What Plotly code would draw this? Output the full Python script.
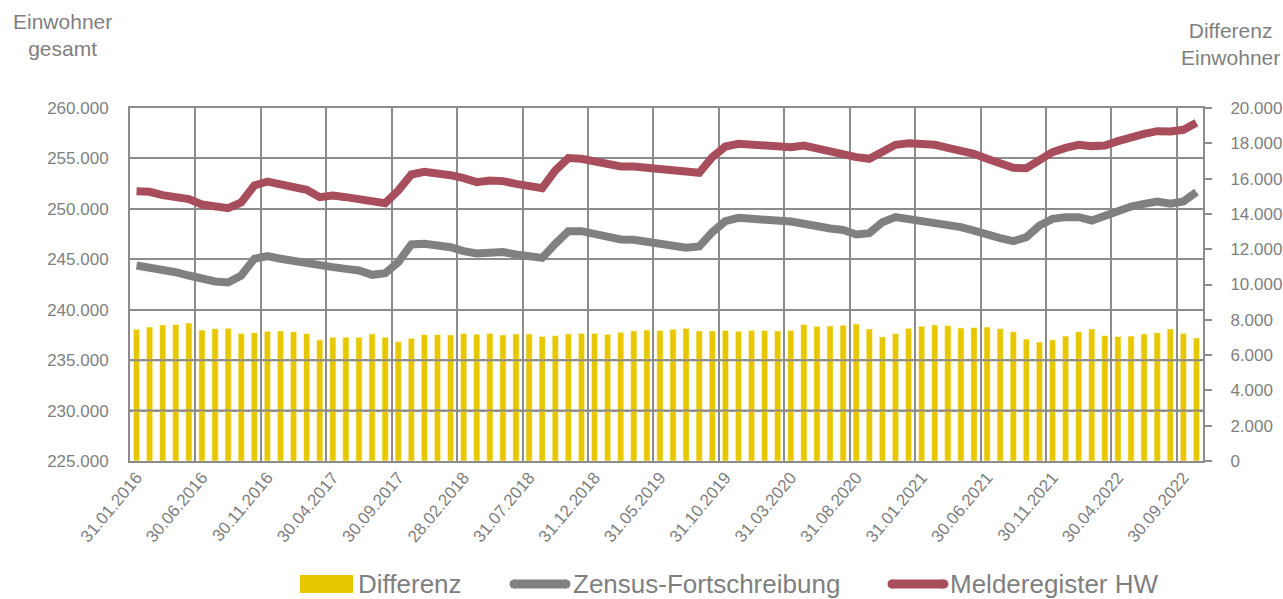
import pandas as pd
import plotly.graph_objects as go

# ---------------- data ----------------
months = [d.strftime("%d.%m.%Y") for d in pd.date_range("2016-01-31", periods=82, freq="ME")]

melderegister_hw = [
    251750, 251690, 251360, 251230, 250960, 250430, 250230, 250070, 250630, 252320,
    252710, 252420, 252150, 251890, 251160, 251320, 251160, 250930, 250660, 250560,
    251820, 253410, 253670, 253540, 253340, 253040, 252650, 252810, 252750, 252480,
    252320, 252050, 253800, 255030, 254960, 254700, 254400, 254200, 254200, 254070,
    253940, 253800, 253640, 253570, 255130, 256180, 256450, 256350, 256350, 256120,
    256120, 256280, 255950, 255750, 255460, 255130, 254960, 255620, 256350, 256510,
    256450, 256350, 256050, 255790, 255460, 254960, 254460, 254070, 254030, 254800,
    255620, 256050, 256350, 256220, 256280, 256710, 257110, 257440, 257700, 257670,
    257840, 258530,
]

zensus_fortschreibung = [
    244380, 244220, 243890, 243720, 243390, 243060, 242800, 242700, 243390, 245050,
    245310, 245050, 244810, 244620, 244320, 244220, 244050, 243890, 243460, 243620,
    244710, 246470, 246530, 246430, 246200, 245810, 245570, 245640, 245710, 245480,
    245310, 245140, 246530, 247790, 247790, 247520, 247290, 246960, 246930, 246700,
    246630, 246370, 246140, 246270, 247690, 248780, 249110, 249010, 248950, 248750,
    248750, 248520, 248190, 248050, 247900, 247460, 247590, 248680, 249180, 249010,
    248850, 248610, 248350, 248190, 247850, 247420, 247090, 246800, 247190, 248350,
    249010, 249180, 249180, 248850, 249340, 249770, 250230, 250500, 250730, 250500,
    250730, 251660,
]

differenz = [
    7460, 7590, 7710, 7730, 7820, 7420, 7500, 7520, 7230, 7270,
    7350, 7370, 7330, 7220, 6860, 7010, 7010, 7010, 7200, 7010,
    6760, 6950, 7160, 7160, 7140, 7230, 7180, 7230, 7140, 7200,
    7200, 7060, 7100, 7200, 7230, 7230, 7180, 7290, 7370, 7420,
    7390, 7460, 7520, 7370, 7370, 7400, 7350, 7400, 7400, 7370,
    7400, 7740, 7630, 7650, 7690, 7760, 7480, 7030, 7220, 7520,
    7630, 7710, 7670, 7540, 7560, 7590, 7500, 7330, 6910, 6740,
    6860, 7080, 7330, 7480, 7100, 7050, 7080, 7200, 7270, 7480,
    7230, 6970,
]

tick_step = 5
tick_labels = months[::tick_step]
legend_names = ["Differenz", "Zensus-Fortschreibung", "Melderegister HW"]

# ---------------- style ----------------
FONT = "Liberation Sans, Arial, sans-serif"
TXT = "#7f7f7f"
GRID = "#8c8c8c"
YELLOW = "#E6C700"
GRAY = "#808080"
RED = "#A84D5C"

W, H = 1283, 599
L, R, T, B = 130, 80, 108, 138
PW, PH = W - L - R, H - T - B


def px(x):
    return (x - L) / PW


def py(y):
    return (H - B - y) / PH


pos = list(range(len(months)))  # category positions on the x axis

fig = go.Figure()
fig.add_trace(go.Bar(
    x=pos, y=differenz, name=legend_names[0], yaxis="y2", hovertext=months,
    marker=dict(color=YELLOW, line=dict(color="rgba(255,250,210,0.8)", width=0.8)),
    width=0.48, showlegend=False,
))
fig.add_trace(go.Scatter(
    x=pos, y=zensus_fortschreibung, name=legend_names[1], mode="lines", hovertext=months,
    line=dict(color=GRAY, width=8), showlegend=False,
))
fig.add_trace(go.Scatter(
    x=pos, y=melderegister_hw, name=legend_names[2], mode="lines", hovertext=months,
    line=dict(color=RED, width=8), showlegend=False,
))

shapes = []
# horizontal gridlines that cross the bars are drawn above them
for v in (230000, 235000):
    shapes.append(dict(type="line", xref="paper", yref="y", x0=0, x1=1, y0=v, y1=v,
                       line=dict(color=GRID, width=2), layer="above"))

# custom legend
leg_y = 584
shapes.append(dict(type="rect", xref="paper", yref="paper",
                   x0=px(300), x1=px(353), y0=py(593), y1=py(575),
                   fillcolor=YELLOW, line=dict(width=0)))
shapes.append(dict(type="line", xref="paper", yref="paper",
                   x0=px(514), x1=px(566), y0=py(leg_y), y1=py(leg_y),
                   line=dict(color=GRAY, width=9)))
shapes.append(dict(type="line", xref="paper", yref="paper",
                   x0=px(892), x1=px(944), y0=py(leg_y), y1=py(leg_y),
                   line=dict(color=RED, width=9)))
for cx, col in ((514, GRAY), (566, GRAY), (892, RED), (944, RED)):
    shapes.append(dict(type="circle", xref="paper", yref="paper",
                       x0=px(cx - 4.5), x1=px(cx + 4.5), y0=py(leg_y + 4.5), y1=py(leg_y - 4.5),
                       fillcolor=col, line=dict(width=0)))

annotations = [
    dict(text="Einwohner<br>gesamt", xref="paper", yref="paper", x=px(62), y=py(35),
         xanchor="center", yanchor="middle", showarrow=False, align="center",
         font=dict(family=FONT, size=21, color=TXT)),
    dict(text="Differenz<br>Einwohner", xref="paper", yref="paper", x=px(1230), y=py(44),
         xanchor="center", yanchor="middle", showarrow=False, align="center",
         font=dict(family=FONT, size=21, color=TXT)),
]
for name, xl in zip(legend_names, (356, 571, 948)):
    annotations.append(dict(text=name, xref="paper", yref="paper", x=px(xl), y=py(leg_y),
                            xanchor="left", yanchor="middle", showarrow=False,
                            font=dict(family=FONT, size=26, color=TXT)))

fig.update_layout(
    width=W, height=H,
    margin=dict(l=L, r=R, t=T, b=B, pad=0, autoexpand=False),
    paper_bgcolor="white", plot_bgcolor="white",
    separators=",.",
    font=dict(family=FONT, color=TXT, size=17),
    showlegend=False,
    xaxis=dict(
        range=[-0.5, len(months) - 0.5], automargin=False,
        tickmode="array", tickvals=pos[::tick_step], ticktext=tick_labels,
        ticks="", tickangle=-50, showgrid=False, zeroline=False,
        minor=dict(tickmode="linear", tick0=-0.5, dtick=tick_step, showgrid=True,
                   gridcolor=GRID, gridwidth=2, ticks=""),
        showline=True, linecolor=GRID, linewidth=2, mirror=True,
        tickfont=dict(family=FONT, size=17, color=TXT),
        ticklabelstandoff=-2,
    ),
    yaxis=dict(
        range=[225000, 260000], tick0=225000, dtick=5000, tickformat=",d",
        automargin=False,
        showgrid=True, gridcolor=GRID, gridwidth=2,
        showline=True, linecolor=GRID, linewidth=2, ticks="",
        zeroline=False,
        tickfont=dict(family=FONT, size=17, color=TXT),
        ticklabelstandoff=16,
    ),
    yaxis2=dict(
        overlaying="y", side="right", automargin=False,
        range=[0, 20000], tick0=0, dtick=2000, tickformat=",d",
        showgrid=False, zeroline=False,
        showline=True, linecolor=GRID, linewidth=2,
        ticks="outside", ticklen=7, tickwidth=2, tickcolor=GRID,
        tickfont=dict(family=FONT, size=17, color=TXT),
        ticklabelstandoff=15,
    ),
    shapes=shapes,
    annotations=annotations,
)

fig.write_html("out.html", config={"displayModeBar": False},
               post_script="document.body.style.margin='0';")
